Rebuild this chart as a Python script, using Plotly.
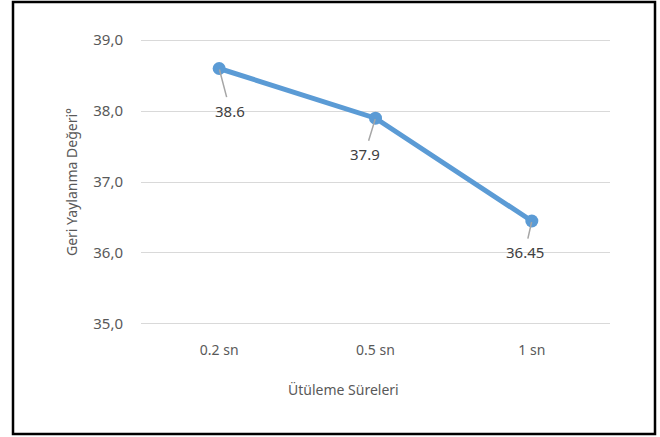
import plotly.graph_objects as go

categories = ["0.2 sn", "0.5 sn", "1 sn"]
values = [38.6, 37.9, 36.45]
value_labels = ["38.6", "37.9", "36.45"]
tick_vals = [35, 36, 37, 38, 39]
tick_text = ["35,0", "36,0", "37,0", "38,0", "39,0"]
x_title = "Ütüleme Süreleri"
y_title = "Geri Yaylanma Değeri°"

# label offsets (pixels) relative to the point
label_offsets = [(11, 42), (-11, 36), (-7, 31)]

L, R, T, B = 141, 50, 38, 111
W, H = 660, 437
pw, ph = W - L - R, H - T - B
FONT = "Noto Sans"

fig = go.Figure()
fig.add_trace(go.Scatter(
    x=categories, y=values, mode="lines+markers",
    line=dict(color="#5B9BD5", width=5),
    marker=dict(color="#5B9BD5", size=13),
    hoverinfo="skip", showlegend=False,
))

for c, v, t, (dx, dy) in zip(categories, values, value_labels, label_offsets):
    fig.add_annotation(
        x=c, y=v, text=t, showarrow=True, arrowhead=0, arrowwidth=1.5,
        arrowcolor="#A6A6A6", ax=dx, ay=dy, standoff=1, startstandoff=2,
        font=dict(family=FONT, size=15, color="#404040"),
    )

fig.add_annotation(
    x=(343 - L) / pw, y=(H - B - 389) / ph, xref="paper", yref="paper",
    xanchor="center", yanchor="middle",
    text=x_title, showarrow=False,
    font=dict(family=FONT, size=14, color="#595959"),
)
fig.add_annotation(
    x=(71 - L) / pw, y=(H - B - 182) / ph, xref="paper", yref="paper",
    xanchor="center", yanchor="middle",
    text=y_title, showarrow=False, textangle=-90,
    font=dict(family=FONT, size=14, color="#595959"),
)

fig.add_shape(
    type="rect", xref="paper", yref="paper",
    x0=(13 - L) / pw, x1=(655 - L) / pw,
    y0=(H - B - 434) / ph, y1=(H - B - 2) / ph,
    line=dict(color="black", width=2.5), layer="below",
)

fig.update_layout(
    width=W, height=H,
    margin=dict(l=L, r=R, t=T, b=B),
    paper_bgcolor="white", plot_bgcolor="white",
    font=dict(family=FONT, size=14, color="#595959"),
    xaxis=dict(range=[-0.5, 2.5], showgrid=False, zeroline=False,
               showline=False, ticks="", ticklabelstandoff=14,
               tickfont=dict(size=14, color="#595959"), fixedrange=True),
    yaxis=dict(range=[34.97, 39.03], tickvals=tick_vals, ticktext=tick_text,
               showgrid=True, gridcolor="#D9D9D9", gridwidth=1,
               zeroline=False, showline=False, ticks="", ticklabelstandoff=17,
               tickfont=dict(size=15, color="#595959"), fixedrange=True),
)

fig.write_html("out.html", config={"displayModeBar": False})
